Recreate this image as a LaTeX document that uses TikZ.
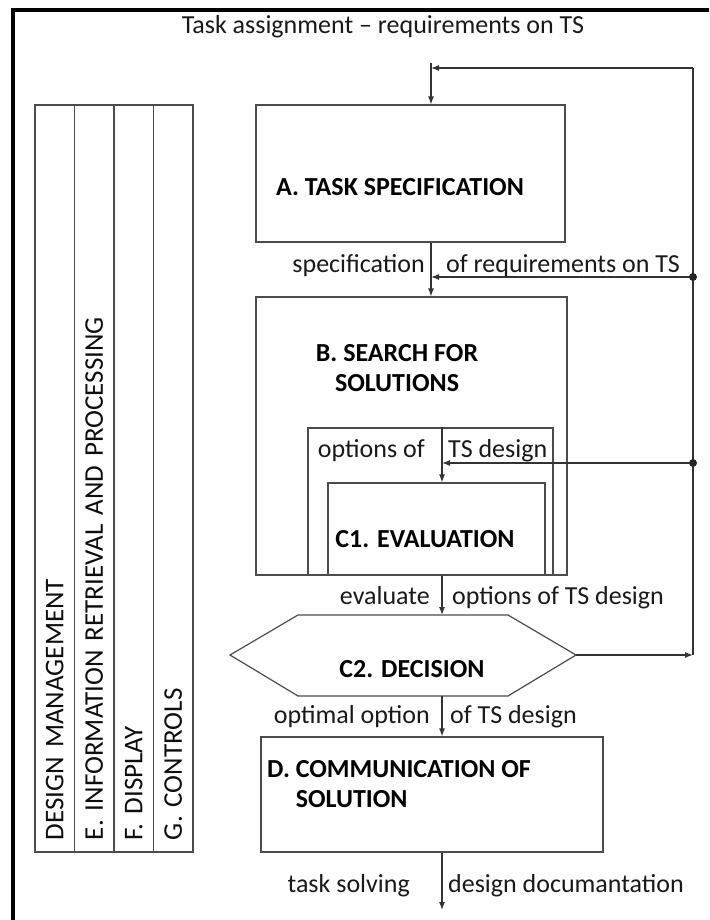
\documentclass[tikz,border=0pt]{standalone}
\usepackage{fontspec}
\setmainfont{Carlito}
\usetikzlibrary{arrows.meta}

\begin{document}
\begin{tikzpicture}[x=1pt, y=-1pt,
    box/.style={rectangle, draw=black!70, line width=1.2pt, inner sep=0pt},
    title/.style={font=\fontsize{26}{30}\selectfont\bfseries, text=black, inner sep=0pt},
    lbl/.style={font=\fontsize{26}{30}\selectfont, text=black!90, inner sep=0pt},
    strip/.style={box, rotate=90, minimum width=747pt, minimum height=39.5pt,
      inner xsep=12pt, inner ysep=0pt, text width=723pt, align=left,
      font=\fontsize{27}{30}\selectfont, text=black!95},
    arr/.style={draw=black!80, line width=1.2pt, -{Latex[length=8pt,width=6pt]}},
    wire/.style={draw=black!80, line width=1.2pt}
    ]
  \useasboundingbox (0,0) rectangle (709,920);
  % frame
  \draw[line width=3.5pt] (13,920) -- (13,10) -- (709,10);

  % left strip
  \foreach \name/\cx/\txt in {dm/54.75/DESIGN MANAGEMENT,
      info/94.25/E. INFORMATION RETRIEVAL AND PROCESSING,
      disp/133.75/F. DISPLAY, ctrl/173.25/G. CONTROLS}
    \node[strip] (\name) at (\cx,478.5) {\txt};

  % boxes
  \node[box, minimum width=309pt, minimum height=137pt] (taskbox) at (410.5,173.5) {};
  \node[box, minimum width=311pt, minimum height=278pt] (searchbox) at (411.5,436) {};
  \node[box, minimum width=245pt, minimum height=147pt] (optbox) at (430.5,501.5) {};
  \node[box, minimum width=217pt, minimum height=92pt] (evalbox) at (436.5,529) {};
  \node[box, minimum width=342pt, minimum height=115pt] (commbox) at (432,794.5) {};

  % decision hexagon
  \coordinate (hexw) at (230,655);
  \coordinate (hexnw) at (298,615);
  \coordinate (hexne) at (508,615);
  \coordinate (hexe) at (576,655);
  \coordinate (hexse) at (508,696);
  \coordinate (hexsw) at (298,696);
  \draw[box] (hexw) -- (hexnw) -- (hexne) -- (hexe) -- (hexse) -- (hexsw) -- cycle;

  \node[title, anchor=base] (tasktext) at (400,196) {A. TASK SPECIFICATION};
  \node[title, align=center] (searchtext) at (397,367.7) {B. SEARCH FOR\\SOLUTIONS};
  \node[title, anchor=base] (evaltext) at (425,547) {C1. EVALUATION};
  \node[title, anchor=base] (decisiontext) at (412,677) {C2. DECISION};
  \node[title, align=left, anchor=west] (commtext) at (267,783.7)
    {D. COMMUNICATION OF\\\hphantom{D. }SOLUTION};

  % connectors
  \coordinate (in) at (431,63);
  \coordinate (spine) at (442,575);
  \coordinate (out) at (442,910);
  \coordinate (fbtop) at (693,68);
  \coordinate (fbbot) at (693,655);
  \coordinate (dotspec) at (693,277);
  \coordinate (dotopt) at (693,463);

  \node[lbl, anchor=base] (assign) at (383,34) {Task assignment – requirements on TS};
  \draw[arr] (in) -- (in |- taskbox.north);
  \draw[arr] (in |- taskbox.south) -- (in |- searchbox.north);
  \draw[arr] (spine |- optbox.north) -- (spine |- evalbox.north);
  \draw[arr] (spine |- evalbox.south) -- (spine |- hexnw);
  \draw[arr] (spine |- hexsw) -- (spine |- commbox.north);
  \draw[arr] (spine |- commbox.south) -- (out);

  % feedback
  \draw[wire] (fbbot) -- (fbtop);
  \draw[arr] (fbtop) -- (in |- fbtop);
  \draw[arr] (dotspec) -- (in |- dotspec);
  \draw[arr] (dotopt) -- (spine |- dotopt);
  \draw[arr] (hexe) -- (fbbot);
  \fill[black!85] (dotspec) circle (4pt);
  \fill[black!85] (dotopt) circle (4pt);

  % labels
  \node[lbl, anchor=base east] (specl) at (425,272) {specification};
  \node[lbl, anchor=base west] (specr) at (446,272) {of requirements on TS};
  \node[lbl, anchor=base east] (optl) at (425,457) {options of};
  \node[lbl, anchor=base west] (optr) at (448,457) {TS design};
  \node[lbl, anchor=base east] (evall) at (430,604) {evaluate};
  \node[lbl, anchor=base west] (evalr) at (452,604) {options of TS design};
  \node[lbl, anchor=base east] (decl) at (430,723) {optimal option};
  \node[lbl, anchor=base west] (decr) at (450,723) {of TS design};
  \node[lbl, anchor=base east] (outl) at (410,892) {task solving};
  \node[lbl, anchor=base west] (outr) at (448,892) {design documantation};
\end{tikzpicture}
\end{document}
